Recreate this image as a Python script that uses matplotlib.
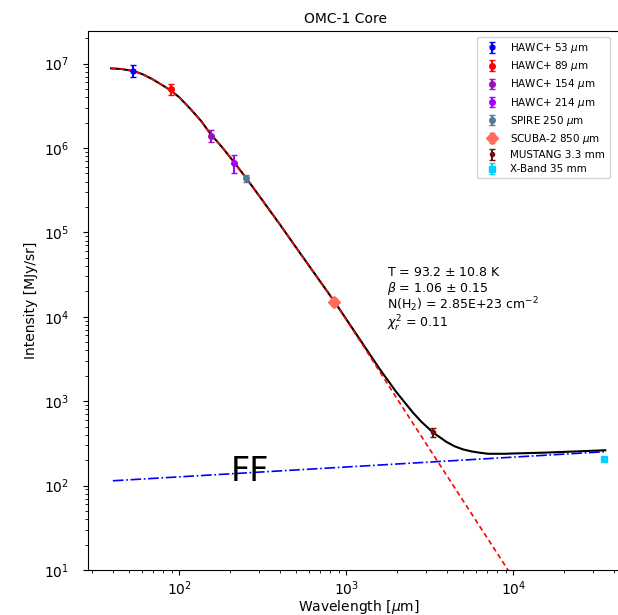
import matplotlib
matplotlib.use('Agg')
import matplotlib.pyplot as plt

# model curves (wavelength in micron, intensity in MJy/sr)
model_wave = [39, 45, 50, 53, 60, 69, 79, 89, 100, 117, 135, 154, 182, 214, 250,
              316, 398, 562, 850, 1259, 1585, 1995, 2512, 2818, 3300, 3981,
              4467, 5012, 5623, 6310, 7079, 8913, 10000, 15849, 25119, 35560]
total_int = [8.77e6, 8.61e6, 8.32e6, 8.17e6, 7.50e6, 6.53e6, 5.56e6, 4.79e6,
             3.98e6, 2.88e6, 2.09e6, 1.46e6, 1.0e6, 6.68e5, 4.47e5, 2.37e5,
             1.26e5, 4.79e4, 1.51e4, 4744, 2402, 1281, 729, 570, 427, 329,
             291, 268, 254, 245, 238, 238, 240, 246, 255, 262]
dust_wave = [39, 45, 50, 53, 60, 69, 79, 89, 100, 117, 135, 154, 182, 214, 250,
             316, 398, 562, 850, 1259, 1995, 3300, 5012, 7079, 10000]
dust_int = [8.77e6, 8.61e6, 8.32e6, 8.17e6, 7.50e6, 6.53e6, 5.56e6, 4.79e6,
            3.98e6, 2.88e6, 2.09e6, 1.46e6, 1.0e6, 6.68e5, 4.47e5, 2.37e5,
            1.26e5, 4.79e4, 1.51e4, 4571, 1101, 236, 66, 23, 8]
ff_wave = [40, 35560]
ff_int = [114, 252]

# measured points
labels = ['HAWC+ 53 $\\mu$m', 'HAWC+ 89 $\\mu$m', 'HAWC+ 154 $\\mu$m',
          'HAWC+ 214 $\\mu$m', 'SPIRE 250 $\\mu$m', 'SCUBA-2 850 $\\mu$m',
          'MUSTANG 3.3 mm', 'X-Band 35 mm']
wave = [53, 89, 154, 214, 250, 850, 3300, 35000]
inten = [8.2e6, 4.95e6, 1.39e6, 6.6e5, 4.4e5, 1.5e4, 430, 207]
err = [1.3e6, 7e5, 2.2e5, 1.6e5, 4e4, 1.5e3, 50, 10]
colors = ['blue', 'red', '#9c10b8', '#a600ff', '#55799b', '#ff6b5e',
          '#6e1010', '#00d2ff']
markers = ['o', 'o', 'o', 'o', 'o', 'D', 'o', 's']
msizes = [3.5, 4, 4, 4, 4, 6, 3, 4]

fig = plt.figure(figsize=(6.18, 6.15), dpi=100)
ax = fig.add_axes([0.1424, 0.0732, 0.877, 0.8764])

ax.plot(model_wave, total_int, color='black', lw=1.5)
ax.plot(dust_wave, dust_int, color='red', lw=1.2, ls=(0, (3, 2)))
ax.plot(ff_wave, ff_int, color='blue', lw=1.2, ls='-.')

for i in range(len(wave)):
    ax.errorbar(wave[i], inten[i], yerr=err[i], fmt=markers[i], color=colors[i],
                ms=msizes[i], capsize=2, elinewidth=1.5, label=labels[i])

ax.set_xscale('log')
ax.set_yscale('log')
ax.set_xlim(28.4, 5.0e4)
ax.set_ylim(10, 2.43e7)
ax.tick_params(axis='y', which='major', pad=10)
ax.set_xlabel('Wavelength [$\\mu$m]', fontsize=10, labelpad=0)
ax.set_ylabel('Intensity [MJy/sr]', fontsize=10)
ax.set_title('OMC-1 Core', fontsize=10, x=0.476)
ax.legend(loc='upper left', bbox_to_anchor=(0.718, 0.989), borderaxespad=0,
          fontsize=7.5, labelspacing=0.4)

ax.text(0.552, 0.546, 'T = 93.2 $\\pm$ 10.8 K', transform=ax.transAxes, fontsize=9)
ax.text(0.552, 0.516, '$\\beta$ = 1.06 $\\pm$ 0.15', transform=ax.transAxes, fontsize=9)
ax.text(0.552, 0.484, 'N(H$_2$) = 2.85E+23 cm$^{-2}$', transform=ax.transAxes, fontsize=9)
ax.text(0.552, 0.450, '$\\chi^2_r$ = 0.11', transform=ax.transAxes, fontsize=9)

ax.text(265, 147, 'FF', ha='center', va='center', fontsize=24)

fig.savefig('out.png', dpi=100)
